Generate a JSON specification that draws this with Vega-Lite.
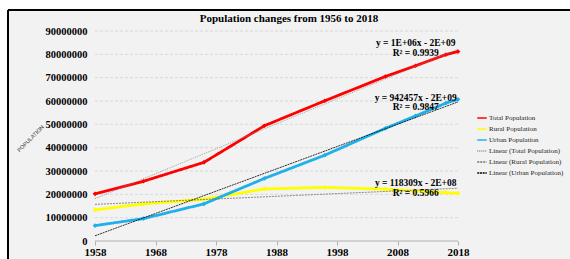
{
  "$schema": "https://vega.github.io/schema/vega-lite/v6.json",
  "width": 562,
  "height": 249,
  "autosize": "none",
  "padding": {"left": 8, "top": 10, "right": 0, "bottom": 0},
  "background": "white",
  "title": {
    "text": "Population changes from 1956 to 2018",
    "font": "Liberation Serif",
    "fontSize": 11,
    "fontWeight": "bold",
    "color": "#000000",
    "anchor": "middle",
    "frame": "group",
    "offset": -15
  },
  "datasets": {
    "pop": [
      {"year": 1958, "series": "Total Population", "value": 20200000},
      {"year": 1966, "series": "Total Population", "value": 25600000},
      {"year": 1976, "series": "Total Population", "value": 33700000},
      {"year": 1986, "series": "Total Population", "value": 49400000},
      {"year": 1996, "series": "Total Population", "value": 60100000},
      {"year": 2006, "series": "Total Population", "value": 70500000},
      {"year": 2011, "series": "Total Population", "value": 75100000},
      {"year": 2016, "series": "Total Population", "value": 79900000},
      {"year": 2018, "series": "Total Population", "value": 81200000},
      {"year": 1958, "series": "Rural Population", "value": 13300000},
      {"year": 1966, "series": "Rural Population", "value": 15900000},
      {"year": 1976, "series": "Rural Population", "value": 17900000},
      {"year": 1986, "series": "Rural Population", "value": 22300000},
      {"year": 1996, "series": "Rural Population", "value": 23000000},
      {"year": 2006, "series": "Rural Population", "value": 22200000},
      {"year": 2011, "series": "Rural Population", "value": 21400000},
      {"year": 2016, "series": "Rural Population", "value": 20700000},
      {"year": 2018, "series": "Rural Population", "value": 20500000},
      {"year": 1958, "series": "Urban Population", "value": 6600000},
      {"year": 1966, "series": "Urban Population", "value": 9600000},
      {"year": 1976, "series": "Urban Population", "value": 15900000},
      {"year": 1986, "series": "Urban Population", "value": 26800000},
      {"year": 1996, "series": "Urban Population", "value": 36800000},
      {"year": 2006, "series": "Urban Population", "value": 48300000},
      {"year": 2011, "series": "Urban Population", "value": 53600000},
      {"year": 2016, "series": "Urban Population", "value": 59100000},
      {"year": 2018, "series": "Urban Population", "value": 60700000}
    ],
    "grid": [
      {"v": 10000000}, {"v": 20000000}, {"v": 30000000}, {"v": 40000000}, {"v": 50000000},
      {"v": 60000000}, {"v": 70000000}, {"v": 80000000}, {"v": 90000000}
    ],
    "labels": [
      {"label": "y = 1E+06x - 2E+09", "year": 2011, "value": 85000000},
      {"label": "R² = 0.9939", "year": 2011, "value": 80400000},
      {"label": "y = 942457x - 2E+09", "year": 2011, "value": 61200000},
      {"label": "R² = 0.9847", "year": 2011, "value": 57400000},
      {"label": "y = 118309x - 2E+08", "year": 2011, "value": 24900000},
      {"label": "R² = 0.5966", "year": 2011, "value": 20700000}
    ]
  },
  "layer": [
    {
      "data": {"name": "grid"},
      "mark": {"type": "rule", "color": "#d0d0d0", "strokeWidth": 0.8, "strokeDash": [3, 2]},
      "encoding": {
        "y": {
          "field": "v", "type": "quantitative",
          "scale": {"domain": [-7714286, 99000000], "nice": false, "zero": false},
          "axis": {
            "orient": "left", "offset": -87,
            "values": [0, 10000000, 20000000, 30000000, 40000000, 50000000, 60000000, 70000000, 80000000, 90000000],
            "tickCount": 10,
            "format": "d", "domain": false, "grid": false, "ticks": false, "labelPadding": 8,
            "labelFont": "Liberation Serif", "labelFontSize": 10.5, "labelFontWeight": "bold", "labelColor": "#000000",
            "labelFlush": false, "labelOverlap": false,
            "title": "POPULATION", "titleAngle": 315, "titleX": -65, "titleY": 128,
            "titleAlign": "center", "titleBaseline": "middle",
            "titleFont": "Liberation Sans", "titleFontSize": 5.5, "titleFontWeight": "normal", "titleColor": "#333333"
          }
        },
        "x": {
          "datum": 1958, "type": "quantitative",
          "scale": {"domain": [1943.62, 2036.51], "nice": false, "zero": false},
          "axis": {
            "orient": "bottom", "offset": -18, "values": [1958, 1968, 1978, 1988, 1998, 2008, 2018],
            "format": "d", "title": null, "domain": false, "grid": false,
            "ticks": true, "tickSize": 4, "tickColor": "#b0b0b0", "labelPadding": 1,
            "labelFont": "Liberation Serif", "labelFontSize": 11, "labelFontWeight": "bold", "labelColor": "#000000",
            "labelFlush": false, "labelOverlap": false
          }
        },
        "x2": {"datum": 2018}
      }
    },
    {
      "data": {"values": [{"edge": "bottom"}]},
      "mark": {"type": "rule", "color": "#b0b0b0", "strokeWidth": 1},
      "encoding": {
        "y": {"datum": 0, "type": "quantitative"},
        "x": {"datum": 1958, "type": "quantitative"},
        "x2": {"datum": 2018}
      }
    },
    {
      "data": {"values": [{"edge": "left"}]},
      "mark": {"type": "rule", "color": "#000000", "strokeWidth": 2},
      "encoding": {
        "x": {"datum": 1943.62, "type": "quantitative"},
        "y": {"datum": -7714286, "type": "quantitative"},
        "y2": {"datum": 99000000}
      }
    },
    {
      "data": {"values": [{"edge": "top"}]},
      "mark": {"type": "rule", "color": "#000000", "strokeWidth": 2},
      "encoding": {
        "y": {"datum": 99000000, "type": "quantitative"},
        "x": {"datum": 1943.62, "type": "quantitative"},
        "x2": {"datum": 2036.51}
      }
    },
    {
      "data": {"name": "pop"},
      "mark": {"type": "line", "strokeWidth": 2.8, "point": {"filled": true, "size": 22, "shape": "diamond"}},
      "encoding": {
        "x": {"field": "year", "type": "quantitative"},
        "y": {"field": "value", "type": "quantitative"},
        "color": {
          "field": "series", "type": "nominal",
          "scale": {
            "domain": ["Total Population", "Rural Population", "Urban Population", "Linear (Total Population)", "Linear (Rural Population)", "Linear (Urban Population)"],
            "range": ["#ff0000", "#ffff00", "#1fb0ea", "#8c8c8c", "#6e6e6e", "#000000"]
          },
          "legend": {
            "title": null, "orient": "none", "legendX": 468, "legendY": 102,
            "symbolType": "stroke", "symbolSize": 90, "symbolStrokeWidth": 1.6,
            "labelFont": "Liberation Serif", "labelFontSize": 7, "labelColor": "#222222",
            "rowPadding": 1, "labelOffset": 1, "labelLimit": 200
          }
        },
        "strokeDash": {
          "field": "series", "type": "nominal",
          "scale": {
            "domain": ["Total Population", "Rural Population", "Urban Population", "Linear (Total Population)", "Linear (Rural Population)", "Linear (Urban Population)"],
            "range": [[1, 0], [1, 0], [1, 0], [1, 1], [2, 1], [2, 0.7]]
          },
          "legend": {
            "title": null, "orient": "none", "legendX": 468, "legendY": 102
          }
        }
      }
    },
    {
      "data": {"name": "pop"},
      "transform": [
        {"filter": "datum.series === 'Total Population'"},
        {"regression": "value", "on": "year"}
      ],
      "mark": {"type": "line", "strokeWidth": 0.8},
      "encoding": {
        "x": {"field": "year", "type": "quantitative"},
        "y": {"field": "value", "type": "quantitative"},
        "color": {"datum": "Linear (Total Population)"},
        "strokeDash": {"datum": "Linear (Total Population)"}
      }
    },
    {
      "data": {"name": "pop"},
      "transform": [
        {"filter": "datum.series === 'Rural Population'"},
        {"regression": "value", "on": "year"}
      ],
      "mark": {"type": "line", "strokeWidth": 0.8},
      "encoding": {
        "x": {"field": "year", "type": "quantitative"},
        "y": {"field": "value", "type": "quantitative"},
        "color": {"datum": "Linear (Rural Population)"},
        "strokeDash": {"datum": "Linear (Rural Population)"}
      }
    },
    {
      "data": {"name": "pop"},
      "transform": [
        {"filter": "datum.series === 'Urban Population'"},
        {"regression": "value", "on": "year"}
      ],
      "mark": {"type": "line", "strokeWidth": 0.8},
      "encoding": {
        "x": {"field": "year", "type": "quantitative"},
        "y": {"field": "value", "type": "quantitative"},
        "color": {"datum": "Linear (Urban Population)"},
        "strokeDash": {"datum": "Linear (Urban Population)"}
      }
    },
    {
      "data": {"name": "labels"},
      "mark": {"type": "text", "font": "Liberation Serif", "fontSize": 9.5, "fontWeight": "bold", "color": "#000000", "align": "center", "baseline": "middle"},
      "encoding": {
        "x": {"field": "year", "type": "quantitative"},
        "y": {"field": "value", "type": "quantitative"},
        "text": {"field": "label", "type": "nominal"}
      }
    }
  ],
  "config": {
    "view": {"fill": "#f2f2f2", "stroke": null}
  }
}
